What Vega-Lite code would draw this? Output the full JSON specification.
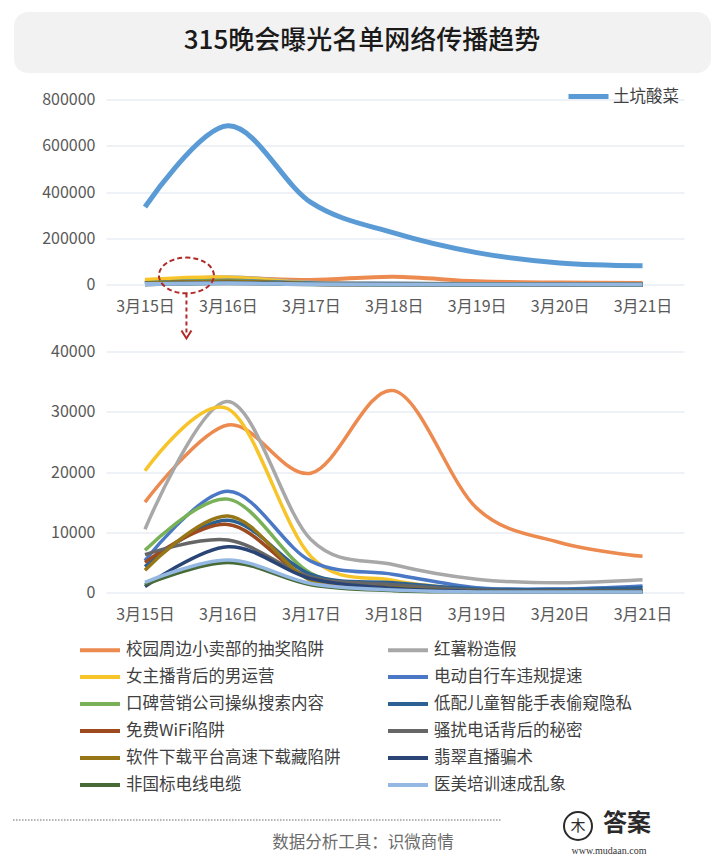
{
  "$schema": "https://vega.github.io/schema/vega-lite/v6.json",
  "padding": {"left": 12, "top": 12, "right": 0, "bottom": 0},
  "background": "white",
  "spacing": 10.5,
  "resolve": {"scale": {"color": "independent"}},
  "config": {
    "font": "Noto Sans CJK SC",
    "view": {"stroke": null},
    "axis": {"labelFont": "Noto Sans CJK SC", "labelFontSize": 16, "labelColor": "#595959", "gridColor": "#dde4ec", "gridWidth": 1},
    "legend": {"labelFont": "Noto Sans CJK SC"},
    "text": {"font": "Noto Sans CJK SC"}
  },
  "datasets": {
    "trend": [
      {"series": "土坑酸菜", "day": 15, "value": 335000},
      {"series": "土坑酸菜", "day": 16, "value": 686000},
      {"series": "土坑酸菜", "day": 17, "value": 355000},
      {"series": "土坑酸菜", "day": 18, "value": 223000},
      {"series": "土坑酸菜", "day": 19, "value": 138000},
      {"series": "土坑酸菜", "day": 20, "value": 93000},
      {"series": "土坑酸菜", "day": 21, "value": 81000},
      {"series": "校园周边小卖部的抽奖陷阱", "day": 15, "value": 15000},
      {"series": "校园周边小卖部的抽奖陷阱", "day": 16, "value": 27800},
      {"series": "校园周边小卖部的抽奖陷阱", "day": 17, "value": 19800},
      {"series": "校园周边小卖部的抽奖陷阱", "day": 18, "value": 33500},
      {"series": "校园周边小卖部的抽奖陷阱", "day": 19, "value": 14000},
      {"series": "校园周边小卖部的抽奖陷阱", "day": 20, "value": 8300},
      {"series": "校园周边小卖部的抽奖陷阱", "day": 21, "value": 6000},
      {"series": "红薯粉造假", "day": 15, "value": 10500},
      {"series": "红薯粉造假", "day": 16, "value": 31700},
      {"series": "红薯粉造假", "day": 17, "value": 8800},
      {"series": "红薯粉造假", "day": 18, "value": 4600},
      {"series": "红薯粉造假", "day": 19, "value": 2200},
      {"series": "红薯粉造假", "day": 20, "value": 1600},
      {"series": "红薯粉造假", "day": 21, "value": 2100},
      {"series": "女主播背后的男运营", "day": 15, "value": 20200},
      {"series": "女主播背后的男运营", "day": 16, "value": 30500},
      {"series": "女主播背后的男运营", "day": 17, "value": 6000},
      {"series": "女主播背后的男运营", "day": 18, "value": 2000},
      {"series": "女主播背后的男运营", "day": 19, "value": 500},
      {"series": "女主播背后的男运营", "day": 20, "value": 300},
      {"series": "女主播背后的男运营", "day": 21, "value": 300},
      {"series": "电动自行车违规提速", "day": 15, "value": 5300},
      {"series": "电动自行车违规提速", "day": 16, "value": 16800},
      {"series": "电动自行车违规提速", "day": 17, "value": 5200},
      {"series": "电动自行车违规提速", "day": 18, "value": 3000},
      {"series": "电动自行车违规提速", "day": 19, "value": 800},
      {"series": "电动自行车违规提速", "day": 20, "value": 600},
      {"series": "电动自行车违规提速", "day": 21, "value": 1100},
      {"series": "口碑营销公司操纵搜索内容", "day": 15, "value": 7000},
      {"series": "口碑营销公司操纵搜索内容", "day": 16, "value": 15500},
      {"series": "口碑营销公司操纵搜索内容", "day": 17, "value": 3200},
      {"series": "口碑营销公司操纵搜索内容", "day": 18, "value": 1200},
      {"series": "口碑营销公司操纵搜索内容", "day": 19, "value": 400},
      {"series": "口碑营销公司操纵搜索内容", "day": 20, "value": 300},
      {"series": "口碑营销公司操纵搜索内容", "day": 21, "value": 300},
      {"series": "低配儿童智能手表偷窥隐私", "day": 15, "value": 4300},
      {"series": "低配儿童智能手表偷窥隐私", "day": 16, "value": 12000},
      {"series": "低配儿童智能手表偷窥隐私", "day": 17, "value": 3000},
      {"series": "低配儿童智能手表偷窥隐私", "day": 18, "value": 1600},
      {"series": "低配儿童智能手表偷窥隐私", "day": 19, "value": 600},
      {"series": "低配儿童智能手表偷窥隐私", "day": 20, "value": 500},
      {"series": "低配儿童智能手表偷窥隐私", "day": 21, "value": 800},
      {"series": "免费WiFi陷阱", "day": 15, "value": 5000},
      {"series": "免费WiFi陷阱", "day": 16, "value": 11300},
      {"series": "免费WiFi陷阱", "day": 17, "value": 2200},
      {"series": "免费WiFi陷阱", "day": 18, "value": 1000},
      {"series": "免费WiFi陷阱", "day": 19, "value": 300},
      {"series": "免费WiFi陷阱", "day": 20, "value": 200},
      {"series": "免费WiFi陷阱", "day": 21, "value": 200},
      {"series": "骚扰电话背后的秘密", "day": 15, "value": 6300},
      {"series": "骚扰电话背后的秘密", "day": 16, "value": 8700},
      {"series": "骚扰电话背后的秘密", "day": 17, "value": 2600},
      {"series": "骚扰电话背后的秘密", "day": 18, "value": 1300},
      {"series": "骚扰电话背后的秘密", "day": 19, "value": 400},
      {"series": "骚扰电话背后的秘密", "day": 20, "value": 300},
      {"series": "骚扰电话背后的秘密", "day": 21, "value": 300},
      {"series": "软件下载平台高速下载藏陷阱", "day": 15, "value": 3700},
      {"series": "软件下载平台高速下载藏陷阱", "day": 16, "value": 12700},
      {"series": "软件下载平台高速下载藏陷阱", "day": 17, "value": 2000},
      {"series": "软件下载平台高速下载藏陷阱", "day": 18, "value": 800},
      {"series": "软件下载平台高速下载藏陷阱", "day": 19, "value": 200},
      {"series": "软件下载平台高速下载藏陷阱", "day": 20, "value": 150},
      {"series": "软件下载平台高速下载藏陷阱", "day": 21, "value": 150},
      {"series": "翡翠直播骗术", "day": 15, "value": 1000},
      {"series": "翡翠直播骗术", "day": 16, "value": 7600},
      {"series": "翡翠直播骗术", "day": 17, "value": 2300},
      {"series": "翡翠直播骗术", "day": 18, "value": 700},
      {"series": "翡翠直播骗术", "day": 19, "value": 200},
      {"series": "翡翠直播骗术", "day": 20, "value": 150},
      {"series": "翡翠直播骗术", "day": 21, "value": 150},
      {"series": "非国标电线电缆", "day": 15, "value": 1300},
      {"series": "非国标电线电缆", "day": 16, "value": 5000},
      {"series": "非国标电线电缆", "day": 17, "value": 1300},
      {"series": "非国标电线电缆", "day": 18, "value": 300},
      {"series": "非国标电线电缆", "day": 19, "value": 100},
      {"series": "非国标电线电缆", "day": 20, "value": 100},
      {"series": "非国标电线电缆", "day": 21, "value": 100},
      {"series": "医美培训速成乱象", "day": 15, "value": 1700},
      {"series": "医美培训速成乱象", "day": 16, "value": 5400},
      {"series": "医美培训速成乱象", "day": 17, "value": 1500},
      {"series": "医美培训速成乱象", "day": 18, "value": 400},
      {"series": "医美培训速成乱象", "day": 19, "value": 100},
      {"series": "医美培训速成乱象", "day": 20, "value": 100},
      {"series": "医美培训速成乱象", "day": 21, "value": 100}
    ],
    "note": [
      {"day": 15.5, "value": 39000, "y1": -39000, "y2": -212000, "tip": -216000}
    ]
  },
  "vconcat": [
    {
      "width": 605,
      "height": 60,
      "layer": [
        {
          "data": {"values": [{"box": "header"}]},
          "mark": {"type": "rect", "fill": "#f2f2f2", "cornerRadius": 14},
          "encoding": {"x": {"value": -92}, "x2": {"value": 605}, "y": {"value": 0}, "y2": {"value": 61}}
        },
        {
          "data": {"values": [{"title": "315晚会曝光名单网络传播趋势"}]},
          "mark": {"type": "text", "fontSize": 26, "fontWeight": 500, "color": "#1a1a1a", "baseline": "middle", "align": "center"},
          "encoding": {"text": {"field": "title"}, "x": {"value": 256}, "y": {"value": 29}}
        }
      ]
    },
    {
      "spacing": 1,
      "resolve": {"scale": {"color": "independent"}},
      "vconcat": [
        {
          "width": 578,
          "height": 185,
          "data": {"name": "trend"},
          "resolve": {"scale": {"color": "independent"}},
          "encoding": {
            "x": {
              "field": "day", "type": "quantitative",
              "scale": {"domain": [14.53, 21.5], "nice": false, "zero": false},
              "axis": {"values": [15, 16, 17, 18, 19, 20, 21], "labelExpr": "'3月' + datum.value + '日'", "title": null, "grid": false, "domain": false, "ticks": false, "labelPadding": 14, "labelFlush": false, "labelOverlap": false}
            }
          },
          "layer": [
            {
              "transform": [{"filter": "datum.series === '土坑酸菜'"}],
              "mark": {"type": "line", "interpolate": "cardinal", "strokeWidth": 5},
              "encoding": {
                "y": {
                  "field": "value", "type": "quantitative",
                  "scale": {"domain": [0, 800000], "nice": false},
                  "axis": {"values": [0, 200000, 400000, 600000, 800000], "format": "d", "title": null, "domain": false, "ticks": false, "labelPadding": 11, "minExtent": 91}
                },
                "color": {
                  "field": "series", "type": "nominal",
                  "scale": {"domain": ["土坑酸菜"], "range": ["#5B9BD5"]},
                  "legend": {"orient": "none", "legendX": 462, "legendY": -15.5, "title": null, "padding": 0, "symbolType": "M -2 0 L 2 0", "symbolSize": 400, "symbolStrokeWidth": 5, "symbolOffset": 8, "labelOffset": 12, "labelFontSize": 16.5, "labelColor": "#404040", "labelLimit": 300}
                }
              }
            },
            {
              "transform": [{"filter": "datum.series !== '土坑酸菜'"}],
              "mark": {"type": "line", "interpolate": "cardinal", "strokeWidth": 4},
              "encoding": {
                "y": {"field": "value", "type": "quantitative", "scale": {"domain": [0, 800000], "nice": false}},
                "color": {
                  "field": "series", "type": "nominal",
                  "scale": {
                    "domain": ["校园周边小卖部的抽奖陷阱", "红薯粉造假", "女主播背后的男运营", "电动自行车违规提速", "口碑营销公司操纵搜索内容", "低配儿童智能手表偷窥隐私", "免费WiFi陷阱", "骚扰电话背后的秘密", "软件下载平台高速下载藏陷阱", "翡翠直播骗术", "非国标电线电缆", "医美培训速成乱象"],
                    "range": ["#EC8A4F", "#A8A8A8", "#F7C42A", "#4A78C4", "#78B157", "#2C6193", "#9C4A1E", "#666666", "#977617", "#2A4575", "#476A36", "#95B8E2"]
                  },
                  "legend": null
                }
              }
            },
            {
              "data": {"name": "note"},
              "mark": {"type": "point", "shape": "M -1 0 A 1 0.65 0 1 0 1 0 A 1 0.65 0 1 0 -1 0 Z", "size": 3025, "filled": false, "stroke": "#B02A2A", "strokeWidth": 2, "strokeDash": [5, 3], "opacity": 1},
              "encoding": {
                "y": {"field": "value", "type": "quantitative", "scale": {"domain": [0, 800000], "nice": false}}
              }
            },
            {
              "data": {"name": "note"},
              "mark": {"type": "rule", "stroke": "#B02A2A", "strokeWidth": 2, "strokeDash": [4, 3]},
              "encoding": {
                "y": {"field": "y1", "type": "quantitative", "scale": {"domain": [0, 800000], "nice": false}},
                "y2": {"field": "y2"}
              }
            },
            {
              "data": {"name": "note"},
              "mark": {"type": "point", "shape": "M -1 -0.8 L 0 0.8 L 1 -0.8", "size": 100, "filled": false, "stroke": "#B02A2A", "strokeWidth": 2, "opacity": 1},
              "encoding": {
                "y": {"field": "tip", "type": "quantitative", "scale": {"domain": [0, 800000], "nice": false}}
              }
            }
          ]
        },
        {
          "width": 578,
          "height": 241,
          "data": {"name": "trend"},
          "transform": [{"filter": "datum.series !== '土坑酸菜'"}],
          "mark": {"type": "line", "interpolate": "cardinal", "strokeWidth": 3.5},
          "encoding": {
            "x": {
              "field": "day", "type": "quantitative",
              "scale": {"domain": [14.53, 21.5], "nice": false, "zero": false},
              "axis": {"values": [15, 16, 17, 18, 19, 20, 21], "labelExpr": "'3月' + datum.value + '日'", "title": null, "grid": false, "domain": false, "ticks": false, "labelPadding": 14, "labelFlush": false, "labelOverlap": false}
            },
            "y": {
              "field": "value", "type": "quantitative",
              "scale": {"domain": [0, 40000], "nice": false},
              "axis": {"values": [0, 10000, 20000, 30000, 40000], "format": "d", "title": null, "domain": false, "ticks": false, "labelPadding": 11, "minExtent": 91}
            },
            "color": {
              "field": "series", "type": "nominal",
              "scale": {
                "domain": ["校园周边小卖部的抽奖陷阱", "红薯粉造假", "女主播背后的男运营", "电动自行车违规提速", "口碑营销公司操纵搜索内容", "低配儿童智能手表偷窥隐私", "免费WiFi陷阱", "骚扰电话背后的秘密", "软件下载平台高速下载藏陷阱", "翡翠直播骗术", "非国标电线电缆", "医美培训速成乱象"],
                "range": ["#EC8A4F", "#A8A8A8", "#F7C42A", "#4A78C4", "#78B157", "#2C6193", "#9C4A1E", "#666666", "#977617", "#2A4575", "#476A36", "#95B8E2"]
              },
              "legend": {"orient": "none", "direction": "horizontal", "legendX": -26, "legendY": 286.5, "columns": 2, "columnPadding": 39, "rowPadding": 6, "title": null, "padding": 0, "symbolType": "M -2 0 L 2 0", "symbolSize": 400, "symbolStrokeWidth": 4, "symbolOffset": 8, "labelOffset": 14, "labelFontSize": 16.5, "labelColor": "#404040", "labelLimit": 300}
            }
          }
        }
      ]
    },
    {
      "width": 514,
      "height": 60,
      "layer": [
        {
          "data": {"values": [{"t": "数据分析工具：识微商情"}]},
          "mark": {"type": "text", "fontSize": 16.5, "color": "#6b6b6b", "baseline": "middle", "align": "center"},
          "encoding": {"text": {"field": "t"}, "x": {"value": 257}, "y": {"value": 38}}
        },
        {
          "data": {"values": [{"t": "line"}]},
          "mark": {"type": "rule", "stroke": "#9a9a9a", "strokeWidth": 1.5, "strokeDash": [1.5, 1.5]},
          "encoding": {"x": {"value": -93}, "x2": {"value": 395}, "y": {"value": 15}}
        },
        {
          "data": {"values": [{"t": "答案"}]},
          "mark": {"type": "text", "fontSize": 24, "fontWeight": "bold", "color": "#2a2a2a", "baseline": "middle", "align": "center"},
          "encoding": {"text": {"field": "t"}, "x": {"value": 521}, "y": {"value": 19}}
        },
        {
          "data": {"values": [{"t": "www.mudaan.com"}]},
          "mark": {"type": "text", "fontSize": 10, "font": "Liberation Serif", "color": "#333333", "baseline": "middle", "align": "center"},
          "encoding": {"text": {"field": "t"}, "x": {"value": 503}, "y": {"value": 46}}
        },
        {
          "data": {"values": [{"t": "木"}]},
          "mark": {"type": "text", "fontSize": 15, "color": "#2a2a2a", "baseline": "middle", "align": "center"},
          "encoding": {"text": {"field": "t"}, "x": {"value": 472}, "y": {"value": 21}}
        },
        {
          "data": {"values": [{"t": "logo"}]},
          "mark": {"type": "point", "shape": "circle", "size": 784, "filled": false, "stroke": "#2a2a2a", "strokeWidth": 2, "opacity": 1},
          "encoding": {"x": {"value": 472}, "y": {"value": 21}}
        }
      ]
    }
  ]
}
